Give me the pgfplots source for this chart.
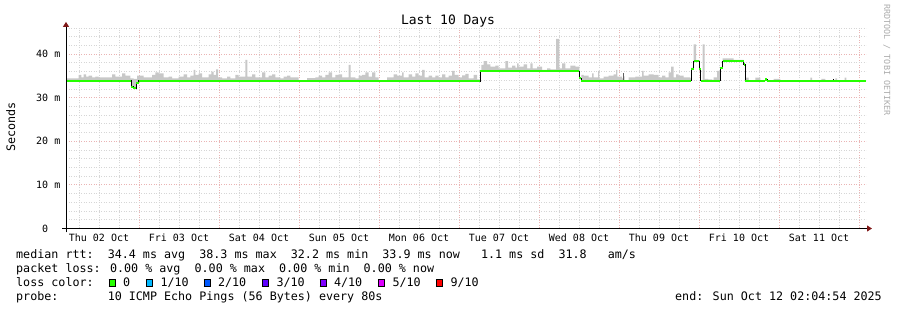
\documentclass[border=0pt]{standalone}
\usepackage{fontspec}
\setmainfont{DejaVu Sans Mono}[WordSpace={1,0,0}]
\usepackage{pgfplots}
\pgfplotsset{compat=1.18}
\usepgfplotslibrary{fillbetween}
\usetikzlibrary{arrows.meta}

\definecolor{loss0}{HTML}{26FF00}
\definecolor{loss1}{HTML}{00B8FF}
\definecolor{loss2}{HTML}{0059FF}
\definecolor{loss3}{HTML}{5E00FF}
\definecolor{loss4}{HTML}{7E00FF}
\definecolor{loss5}{HTML}{DD00FF}
\definecolor{loss9}{HTML}{FF0000}
\definecolor{smoke}{HTML}{C8C8C8}
\definecolor{mgrid}{HTML}{EAB4B4}
\definecolor{mingrid}{HTML}{D6D6D6}
\definecolor{arrowred}{HTML}{801818}
\definecolor{credit}{HTML}{ABABAB}

\newcommand\legfont{\fontsize{11.7bp}{14bp}\selectfont}
\newcommand\tickfont{\fontsize{10bp}{12bp}\selectfont}
\newcommand\titlefont{\fontsize{13bp}{15bp}\selectfont}
\newcommand\creditfont{\fontsize{8.4bp}{10bp}\selectfont}
\newcommand\swatch[1]{\raisebox{0.8bp}{\setlength\fboxsep{0pt}\setlength\fboxrule{0.8bp}\fcolorbox{black}{#1}{\rule{0pt}{6.7bp}\rule{5.7bp}{0pt}}}}

\begin{document}
\begin{tikzpicture}
\path (0,0) rectangle (897bp,310bp);
\begin{axis}[
  name=ax, at={(66bp,81.5bp)}, anchor=south west,
  scale only axis, width=800bp, height=200.6bp,
  xmin=2.1, xmax=242.1, ymin=0, ymax=46,
  axis line style={draw=none},
  no markers,
  xtick={24,48,...,240}, xticklabels={},
  minor xtick={6,12,18,30,36,42,54,60,66,78,84,90,102,108,114,126,132,138,150,156,162,174,180,186,198,204,210,222,228,234},
  extra x ticks={12,36,60,84,108,132,156,180,204,228},
  extra x tick labels={Thu 02 Oct,Fri 03 Oct,Sat 04 Oct,Sun 05 Oct,Mon 06 Oct,Tue 07 Oct,Wed 08 Oct,Thu 09 Oct,Fri 10 Oct,Sat 11 Oct},
  extra x tick style={grid=none, major tick length=0pt},
  ytick={0,10,20,30,40},
  yticklabels={0\hphantom{~m},10 m,20 m,30 m,40 m},
  minor ytick={2,4,6,8,12,14,16,18,22,24,26,28,32,34,36,38,42,44,46},
  grid=both,
  major grid style={mgrid, dash pattern=on 1bp off 1.5bp, line width=0.8bp},
  minor grid style={mingrid, dash pattern=on 1bp off 1.5bp, line width=0.8bp},
  major tick length=0pt, minor tick length=0pt,
  xtick pos=lower, ytick pos=left,
  tick label style={font=\tickfont, text=black},
  xticklabel style={anchor=base, yshift=-13.2bp, inner sep=0pt},
  yticklabel style={anchor=east, xshift=-5.5bp, inner sep=0pt},
]
% smoke upper edge (seconds in ms units)
\addplot[name path=up, draw=none, const plot mark left, forget plot] coordinates {
(2.1,34.44) (5.91,35.2) (6.69,34.67) (7.41,35.36) (8.1,34.82) (8.91,35.05) (9.9,34.67) (10.89,34.82) (11.91,34.67) (15.9,35.36) (16.89,34.82) (18.9,35.59) (19.89,35.05) (21.39,34.44) (22.41,34.3) (23.4,35.05) (25.41,34.67) (27.9,35.2) (28.89,35.82) (29.91,35.59) (31.41,34.67) (32.91,34.82) (33.9,34.44) (35.91,34.82) (37.41,35.36) (38.4,34.67) (39.39,35.05) (40.41,36.35) (40.89,35.2) (41.91,35.59) (42.9,34.67) (44.91,35.36) (45.69,35.97) (46.41,35.2) (47.1,36.5) (47.7,34.67) (48.9,34.44) (50.4,34.82) (51.39,34.44) (52.89,35.2) (53.91,34.82) (55.89,38.65) (56.49,34.82) (57.9,35.36) (58.89,34.67) (60.9,35.82) (61.89,34.67) (62.91,35.05) (63.9,35.36) (64.89,34.67) (66.39,34.44) (67.41,34.82) (68.4,35.05) (69.39,34.67) (71.91,33.95) (74.4,34.5) (76.89,34.67) (77.91,35.05) (78.9,34.67) (79.89,35.2) (80.91,35.82) (81.9,34.67) (82.89,35.2) (83.91,35.36) (84.9,34.67) (86.91,37.5) (87.51,34.67) (88.89,34.44) (89.91,35.05) (90.9,35.2) (91.89,35.82) (92.91,34.82) (93.9,35.82) (94.89,34.67) (95.91,33.95) (98.4,34.67) (100.41,35.36) (101.4,35.05) (102.9,35.82) (103.41,34.67) (104.91,35.36) (105.9,34.82) (106.89,35.59) (107.91,35.05) (108.9,36.35) (109.71,34.67) (110.91,35.05) (111.9,34.67) (112.89,35.05) (113.91,34.67) (114.9,35.36) (115.89,34.67) (116.91,35.05) (117.9,36.12) (118.71,35.2) (119.91,34.67) (120.9,35.1) (121.89,35.44) (122.91,34.44) (124.41,35.2) (125.4,34.2) (126.39,36.2) (126.69,37.5) (127.41,38.4) (128.4,37.66) (129.39,37.13) (130.89,37.36) (131.91,36.74) (133.89,38.4) (134.7,36.9) (135.9,37.36) (136.89,36.9) (137.4,37.88) (137.91,37.13) (139.41,37.66) (140.4,36.74) (141.39,37.88) (142.11,36.74) (143.4,37.13) (144.9,36.35) (146.4,36.74) (147.39,36.5) (149.1,43.46) (150.09,36.74) (150.9,37.88) (151.89,36.74) (153.39,37.36) (154.89,37.13) (156.09,34.2) (156.69,35.2) (157.41,35.05) (158.91,34.67) (159.9,35.59) (160.41,34.67) (161.7,36.12) (162.09,34.44) (163.41,34.82) (164.91,35.05) (166.41,35.36) (167.1,36.35) (167.49,34.82) (168.9,34.44) (169.29,34.9) (169.71,33.95) (170.91,34.67) (172.89,34.82) (174.9,36.12) (175.41,35.05) (176.91,35.36) (178.41,35.2) (179.91,34.67) (180.9,35.05) (181.89,34.67) (182.91,35.82) (183.6,37.13) (184.41,34.67) (185.1,35.36) (185.91,35.05) (187.41,34.67) (189.39,34.44) (189.69,36.9) (190.41,42.2) (191.1,38.6) (192.09,36.7) (192.51,33.95) (193.11,42.2) (193.71,34.3) (194.7,34.2) (195.9,34.1) (196.41,34.67) (197.4,36.12) (198.39,36.9) (199.11,39.03) (202.41,38.65) (205.41,37.5) (205.89,34.6) (206.91,33.95) (208.89,34.6) (210.39,33.95) (214.41,34.3) (216.39,33.95) (225.39,34.6) (225.9,33.95) (228.69,34.3) (229.89,33.95) (232.89,34.44) (233.4,33.95) (235.71,34.6) (236.19,33.95) (242.1,33.95)
};
% median rtt
\addplot[name path=med, draw=none, const plot mark left, forget plot] coordinates {
(2.1,33.9) (21.6,32.5) (22.2,32.2) (23.1,33.4) (23.85,33.9) (125.4,33.75) (126.39,36.1) (156.09,34.5) (156.6,33.9) (189.69,36.6) (190.41,38.4) (192.09,36.5) (192.51,33.9) (198.39,36.8) (199.11,38.4) (205.41,37.6) (205.89,33.9) (211.8,34.15) (212.4,33.9) (242.1,33.9)
};
\addplot[smoke, forget plot] fill between[of=up and med];
% darker smoke columns
\addplot[gray!75!black, line width=1.3bp, forget plot] coordinates {(169.45,34.0) (169.45,35.6)};
\addplot[black, line width=1bp, forget plot] coordinates {(232.4,33.7) (232.4,34.3)};
\addplot[black, line width=0.9bp, const plot mark left] coordinates {
(2.1,33.9) (21.6,32.5) (22.2,32.2) (23.1,33.4) (23.85,33.9) (125.4,33.75) (126.39,36.1) (156.09,34.5) (156.6,33.9) (189.69,36.6) (190.41,38.4) (192.09,36.5) (192.51,33.9) (198.39,36.8) (199.11,38.4) (205.41,37.6) (205.89,33.9) (211.8,34.15) (212.4,33.9) (242.1,33.9)
};
\addplot[loss0, line width=2.2bp, jump mark left] coordinates {
(2.1,33.9) (21.6,32.5) (22.2,32.2) (23.1,33.4) (23.85,33.9) (125.4,33.75) (126.39,36.1) (156.09,34.5) (156.6,33.9) (189.69,36.6) (190.41,38.4) (192.09,36.5) (192.51,33.9) (198.39,36.8) (199.11,38.4) (205.41,37.6) (205.89,33.9) (211.8,34.15) (212.4,33.9) (242.1,33.9)
};
\end{axis}
% axis lines with arrows
\draw[black, line width=1bp, -{Triangle[length=5bp,width=6bp,color=arrowred]}] ([xshift=-4bp]ax.south west) -- ([xshift=6bp]ax.south east);
\draw[black, line width=1bp, -{Triangle[length=5bp,width=6bp,color=arrowred]}] ([yshift=-4bp]ax.south west) -- ([yshift=6bp]ax.north west);
% texts
\node[anchor=base, inner sep=0pt, font=\titlefont] at (448bp,285.5bp) {Last 10 Days};
\node[rotate=90, anchor=base, inner sep=0pt, font=\legfont] at (15bp,183bp) {Seconds};
\node[rotate=-90, anchor=base, inner sep=0pt, font=\creditfont, text=credit] at (884bp,250bp) {RRDTOOL / TOBI OETIKER};
\node[anchor=base west, inner sep=0pt, font=\legfont] at (16bp,51.1bp) {median rtt:~~34.4 ms avg~~38.3 ms max~~32.2 ms min~~33.9 ms now~~~1.1 ms sd~~31.8~~~am/s};
\node[anchor=base west, inner sep=0pt, font=\legfont] at (16bp,37.1bp) {packet loss: 0.00 \% avg~~0.00 \% max~~0.00 \% min~~0.00 \% now};
\node[anchor=base west, inner sep=0pt, font=\legfont] at (16bp,23.1bp) {loss color:};
\node[anchor=base west, inner sep=0pt, font=\legfont] at (108.3bp,23.1bp) {\swatch{loss0}\hspace{7.3bp}0};
\node[anchor=base west, inner sep=0pt, font=\legfont] at (145.7bp,23.1bp) {\swatch{loss1}\hspace{7.3bp}1/10};
\node[anchor=base west, inner sep=0pt, font=\legfont] at (203.3bp,23.1bp) {\swatch{loss2}\hspace{7.3bp}2/10};
\node[anchor=base west, inner sep=0pt, font=\legfont] at (261.7bp,23.1bp) {\swatch{loss3}\hspace{7.3bp}3/10};
\node[anchor=base west, inner sep=0pt, font=\legfont] at (319.3bp,23.1bp) {\swatch{loss4}\hspace{7.3bp}4/10};
\node[anchor=base west, inner sep=0pt, font=\legfont] at (377.7bp,23.1bp) {\swatch{loss5}\hspace{7.3bp}5/10};
\node[anchor=base west, inner sep=0pt, font=\legfont] at (435.7bp,23.1bp) {\swatch{loss9}\hspace{7.3bp}9/10};
\node[anchor=base west, inner sep=0pt, font=\legfont] at (16bp,9.1bp) {probe:~~~~~~~10 ICMP Echo Pings (56 Bytes) every 80s};
\node[anchor=base east, inner sep=0pt, font=\legfont] at (882bp,9.1bp) {end: Sun Oct 12 02:04:54 2025};
\end{tikzpicture}
\end{document}
